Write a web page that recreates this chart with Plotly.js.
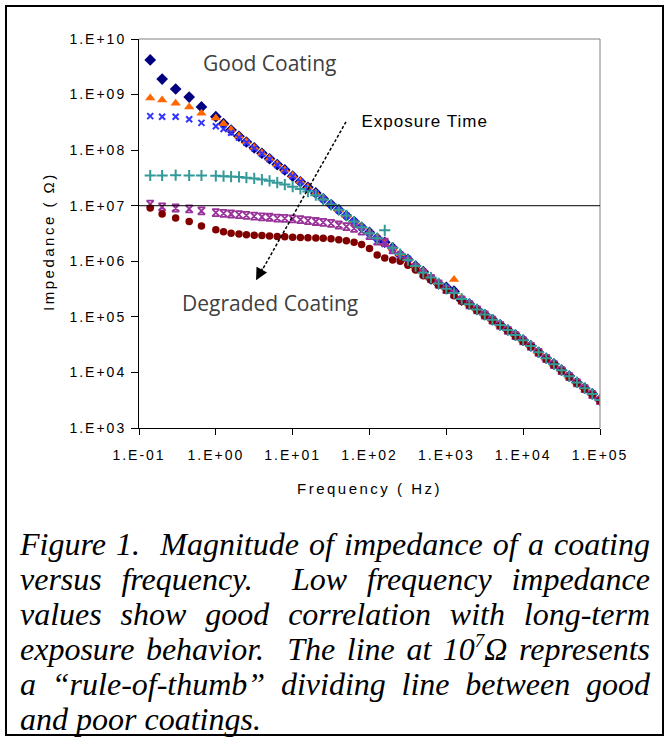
<!DOCTYPE html>
<html>
<head>
<meta charset="utf-8">
<script src="https://cdn.plot.ly/plotly-3.0.1.min.js"></script>
<style>
  html, body { margin: 0; padding: 0; background: #fff; }
  #wrap { position: relative; width: 668px; height: 740px; overflow: hidden; background: #fff; }
  #frame { position: absolute; left: 5px; top: 5px; width: 655px; height: 727px; border: 2px solid #000; }
  #chart { position: absolute; left: 0; top: 0; width: 668px; height: 500px; }
  #caption { position: absolute; left: 20px; top: 527px; width: 630px;
    font-family: "Liberation Serif", "Times New Roman", serif; font-style: italic;
    font-size: 32px; line-height: 35px; color: #000; }
  #caption .j { text-align: justify; text-align-last: justify; white-space: nowrap; }
  #caption .l { text-align: left; }
  .xtick text, .ytick text { letter-spacing: 2px; }
  .g-xtitle text { letter-spacing: 2.5px; }
  .annotation[data-index="0"] text { letter-spacing: 2.5px; }
  .annotation[data-index="3"] text { letter-spacing: 1px; }
</style>
</head>
<body>
<div id="wrap">
  <div id="frame"></div>
  <div id="chart"></div>
  <div id="caption">
    <div class="j">Figure 1.&nbsp; Magnitude of impedance of a coating</div>
    <div class="j">versus frequency.&nbsp; Low frequency impedance</div>
    <div class="j">values show good correlation with long-term</div>
    <div class="j">exposure behavior.&nbsp; The line at 10<sup style="font-size:19px;line-height:0;vertical-align:13px;">7</sup>Ω represents</div>
    <div class="j">a “rule-of-thumb” dividing line between good</div>
    <div class="l">and poor coatings.</div>
  </div>
</div>
<script>
// Frequency (Hz)
const freq = [0.14, 0.2, 0.3, 0.45, 0.65, 1.0, 1.26, 1.58, 2.0, 2.5, 3.16, 3.98, 5.0, 6.3, 7.9,
  10, 12.6, 15.8, 20, 25, 31.6, 39.8, 50, 63, 79, 100, 126, 158, 200, 251, 316, 398, 501, 631, 794,
  1000, 1259, 1585, 1995, 2512, 3162, 3981, 5012, 6310, 7943, 10000, 12589, 15849, 19953, 25119,
  31623, 39811, 50119, 63096, 79433, 100000];

// Impedance (ohm) for each exposure stage
const z_diamond = [4.2e9, 1.9e9, 1.26e9, 9.0e8, 6.0e8, 4.0e8, 3.0e8, 2.3e8, 1.78e8, 1.4e8, 1.1e8, 8.8e7, 7.0e7, 5.5e7, 4.4e7,
  3.4e7, 2.7e7, 2.15e7, 1.7e7, 1.33e7, 1.05e7, 8.4e6, 6.6e6, 5.2e6, 4.1e6, 3.3e6, 2.6e6, 2.2e6, 1.75e6, 1.3e6, 1.08e6, 8.2e5, 6.5e5, 4.8e5, 3.9e5,
  3.4e5, 2.9e5, 2.0e5, 1.7e5, 1.35e5, 1.1e5, 8.9e4, 7.2e4, 5.8e4, 4.7e4, 3.8e4, 3.0e4, 2.3e4, 1.8e4, 1.42e4,
  1.1e4, 8.6e3, 6.6e3, 5.2e3, 4.1e3, 3.2e3];
const z_triangle = [8.7e8, 8.0e8, 7.0e8, 6.0e8, 4.6e8, 3.8e8, 3.0e8, 2.35e8, 1.8e8, 1.42e8, 1.12e8, 8.9e7, 7.1e7, 5.6e7, 4.4e7,
  3.5e7, 2.75e7, 2.15e7, 1.7e7, 1.35e7, 1.06e7, 8.5e6, 6.7e6, 5.2e6, 4.2e6, 3.3e6, 2.7e6, 2.1e6, 1.7e6, 1.35e6, 1.05e6, 7.8e5, 6.6e5, 5.0e5, 4.1e5,
  3.3e5, 4.7e5, 2.2e5, 1.7e5, 1.38e5, 1.12e5, 9.0e4, 7.1e4, 5.9e4, 4.8e4, 3.8e4, 3.05e4, 2.35e4, 1.8e4, 1.4e4,
  1.12e4, 8.5e3, 6.7e3, 5.3e3, 4.2e3, 3.3e3];
const z_cross = [4.1e8, 4.0e8, 4.0e8, 3.6e8, 3.1e8, 2.7e8, 2.4e8, 2.05e8, 1.68e8, 1.36e8, 1.08e8, 8.6e7, 6.9e7, 5.4e7, 4.3e7,
  3.4e7, 2.7e7, 2.1e7, 1.68e7, 1.32e7, 1.05e7, 8.3e6, 6.6e6, 5.2e6, 4.1e6, 3.2e6, 2.6e6, 2.05e6, 1.68e6, 1.3e6, 1.1e6, 8.0e5, 6.4e5, 4.9e5, 4.0e5,
  3.3e5, 2.7e5, 2.1e5, 1.72e5, 1.36e5, 1.1e5, 8.8e4, 7.2e4, 5.8e4, 4.7e4, 3.8e4, 3.0e4, 2.3e4, 1.82e4, 1.41e4,
  1.1e4, 8.6e3, 6.6e3, 5.2e3, 4.1e3, 3.2e3];
const z_plus = [3.5e7, 3.5e7, 3.55e7, 3.5e7, 3.5e7, 3.45e7, 3.4e7, 3.35e7, 3.3e7, 3.2e7, 3.1e7, 2.95e7, 2.8e7, 2.6e7, 2.4e7,
  2.2e7, 2.0e7, 1.8e7, 1.55e7, 1.3e7, 1.05e7, 8.5e6, 6.7e6, 5.2e6, 4.1e6, 3.2e6, 2.6e6, 3.6e6, 1.75e6, 1.35e6, 1.05e6, 8.2e5, 6.2e5, 5.1e5, 4.0e5,
  3.2e5, 2.7e5, 2.1e5, 1.68e5, 1.36e5, 1.1e5, 8.9e4, 7.1e4, 5.8e4, 4.7e4, 3.8e4, 3.0e4, 2.3e4, 1.8e4, 1.4e4,
  1.1e4, 8.5e3, 6.6e3, 5.2e3, 4.1e3, 3.2e3];
const z_bar = [1.07e7, 9.5e6, 9.1e6, 8.8e6, 8.1e6, 7.5e6, 7.3e6, 7.1e6, 6.9e6, 6.7e6, 6.5e6, 6.3e6, 6.2e6, 6.0e6, 5.9e6,
  5.8e6, 5.6e6, 5.4e6, 5.2e6, 5.0e6, 4.8e6, 4.5e6, 4.2e6, 3.9e6, 3.5e6, 2.9e6, 2.3e6, 2.2e6, 1.6e6, 1.25e6, 1.0e6, 7.8e5, 6.1e5, 4.9e5, 3.9e5,
  3.1e5, 2.6e5, 2.0e5, 1.65e5, 1.33e5, 1.08e5, 8.7e4, 7.0e4, 5.7e4, 4.6e4, 3.7e4, 2.95e4, 2.3e4, 1.78e4, 1.38e4,
  1.08e4, 8.4e3, 6.5e3, 5.1e3, 4.0e3, 3.1e3];
const z_circle = [9.1e6, 7.1e6, 6.0e6, 5.2e6, 4.3e6, 3.7e6, 3.4e6, 3.2e6, 3.1e6, 3.0e6, 2.95e6, 2.9e6, 2.85e6, 2.8e6, 2.75e6,
  2.7e6, 2.68e6, 2.65e6, 2.62e6, 2.6e6, 2.55e6, 2.45e6, 2.35e6, 2.2e6, 2.0e6, 1.7e6, 1.3e6, 1.15e6, 1.05e6, 1.0e6, 8.5e5, 7.0e5, 5.5e5, 4.6e5, 3.7e5,
  3.0e5, 2.4e5, 1.9e5, 1.6e5, 1.3e5, 1.05e5, 8.5e4, 6.9e4, 5.6e4, 4.5e4, 3.6e4, 2.9e4, 2.25e4, 1.75e4, 1.36e4,
  1.06e4, 8.3e3, 6.4e3, 5.0e3, 4.0e3, 3.1e3];

const xTickVals = [0.1, 1, 10, 100, 1000, 10000, 100000];
const xTickText = ["1.E-01", "1.E+00", "1.E+01", "1.E+02", "1.E+03", "1.E+04", "1.E+05"];
const yTickVals = [1e3, 1e4, 1e5, 1e6, 1e7, 1e8, 1e9, 1e10];
const yTickText = ["1.E+03", "1.E+04", "1.E+05", "1.E+06", "1.E+07", "1.E+08", "1.E+09", "1.E+10"];
const ruleOfThumb = 1e7;

function series(y, symbol, color, size, lw) {
  return {
    x: freq, y: y, type: 'scatter', mode: 'markers', showlegend: false, hoverinfo: 'x+y',
    marker: { symbol: symbol, color: color, size: size, line: { color: color, width: lw } }
  };
}

const data = [
  series(z_diamond, 'diamond', '#000080', 9, 0),
  series(z_triangle, 'triangle-up', '#FF6600', 9, 0),
  series(z_cross, 'x-thin-open', '#3333FF', 6, 2),
  series(z_bar, 'hourglass-open', '#993399', 7, 1.8),
  series(z_circle, 'circle', '#800000', 7.5, 0),
  series(z_plus, 'cross-thin-open', '#339999', 8, 2)
];

const tickFont = { family: 'Liberation Sans, Arial, sans-serif', size: 14, color: '#000' };

const layout = {
  width: 668, height: 500,
  margin: { l: 139, r: 68, t: 39, b: 72 },
  paper_bgcolor: 'rgba(0,0,0,0)', plot_bgcolor: '#fff',
  showlegend: false,
  xaxis: {
    type: 'log', range: [-1, 5], tickvals: xTickVals, ticktext: xTickText,
    ticks: 'outside', ticklen: 6, tickcolor: '#000', tickwidth: 1, ticklabelstandoff: 8,
    showline: true, linecolor: '#000', linewidth: 1, showgrid: false, zeroline: false,
    tickfont: tickFont,
    title: { text: 'Frequency ( Hz)', font: { family: 'Liberation Sans, Arial, sans-serif', size: 15, color: '#000' }, standoff: 21 }
  },
  yaxis: {
    type: 'log', range: [3, 10], tickvals: yTickVals, ticktext: yTickText,
    ticks: 'outside', ticklen: 7, tickcolor: '#000', tickwidth: 1, ticklabelstandoff: 2,
    showline: true, linecolor: '#000', linewidth: 1, showgrid: false, zeroline: false,
    tickfont: tickFont
  },
  shapes: [
    { type: 'line', xref: 'paper', yref: 'paper', x0: 0, x1: 1, y0: 1, y1: 1, line: { color: '#808080', width: 1 } },
    { type: 'line', xref: 'paper', yref: 'paper', x0: 1, x1: 1, y0: 0, y1: 1, line: { color: '#808080', width: 1 } },
    { type: 'line', xref: 'paper', yref: 'y', x0: 0, x1: 1, y0: ruleOfThumb, y1: ruleOfThumb, line: { color: '#000', width: 1 } },
    { type: 'line', xref: 'paper', yref: 'paper', x0: 0.449, y0: 0.787, x1: 0.262, y1: 0.395, line: { color: '#000', width: 1.5, dash: '3px,2px' } }
  ],
  annotations: [
    { xref: 'paper', yref: 'paper', x: -0.197, y: 0.48, xanchor: 'center', yanchor: 'middle', text: 'Impedance ( Ω)', textangle: -90, showarrow: false,
      font: { family: 'Liberation Sans, Arial, sans-serif', size: 15, color: '#000' } },
    { xref: 'paper', yref: 'paper', x: 0.282, y: 0.938, xanchor: 'center', yanchor: 'middle', text: 'Good Coating', showarrow: false,
      font: { family: 'Open Sans, sans-serif', size: 21, color: '#404040' } },
    { xref: 'paper', yref: 'paper', x: 0.284, y: 0.321, xanchor: 'center', yanchor: 'middle', text: 'Degraded Coating', showarrow: false,
      font: { family: 'Open Sans, sans-serif', size: 21, color: '#404040' } },
    { xref: 'paper', yref: 'paper', x: 0.620, y: 0.787, xanchor: 'center', yanchor: 'middle', text: 'Exposure Time', showarrow: false,
      font: { family: 'Liberation Sans, Arial, sans-serif', size: 17, color: '#000' } },
    { xref: 'paper', yref: 'paper', x: 0.254, y: 0.380, text: '', showarrow: true, ax: 7, ay: -13,
      arrowhead: 2, arrowsize: 1.6, arrowwidth: 1.5, arrowcolor: '#000' }
  ]
};

Plotly.newPlot('chart', data, layout, { staticPlot: true, displayModeBar: false });
</script>
</body>
</html>
